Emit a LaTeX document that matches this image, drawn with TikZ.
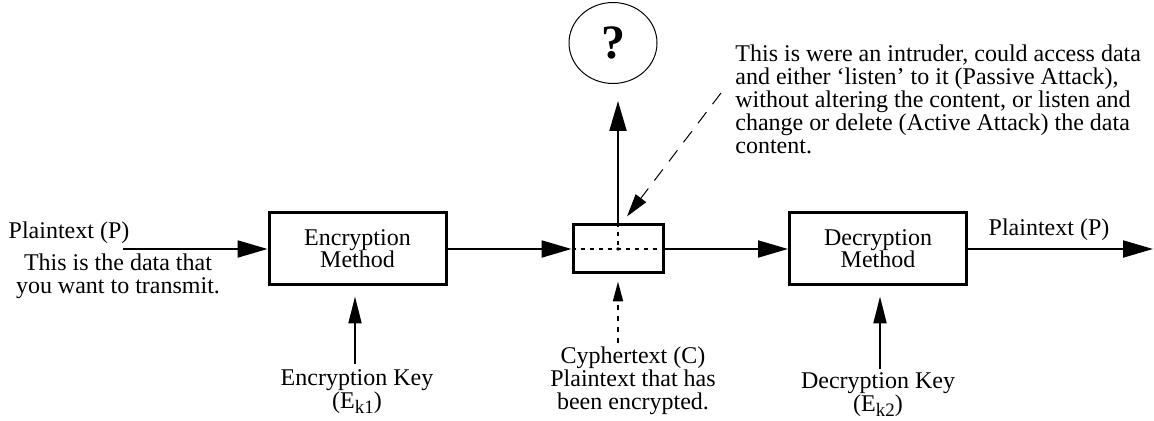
\documentclass[tikz,border=0pt]{standalone}
\usepackage{fontspec}
\setmainfont{Liberation Serif}
\usetikzlibrary{arrows.meta,shapes.geometric,calc}
% lowered key index, as in E with subscript k1
\newcommand{\keyidx}[1]{\raisebox{-0.4ex}{\fontsize{9.5}{9.5}\selectfont #1}}

\begin{document}
\begin{tikzpicture}[x=0.5pt,y=-0.5pt,
  every node/.style={font=\fontsize{12}{11.5}\selectfont, inner sep=0pt},
  method/.style={draw, line width=1.5pt, minimum width=88.5pt, minimum height=36pt,
                 align=center, font=\fontsize{12}{11}\selectfont},
  tapbox/.style={draw, line width=1.5pt, minimum width=45pt, minimum height=24pt},
  label/.style={align=center},
  flow/.style={line width=1pt, -{Triangle[length=15pt,width=8.5pt]}},
  keyflow/.style={line width=1pt, -{Triangle[length=13.5pt,width=6.5pt]}},
  listen/.style={line width=0.5pt, dash pattern=on 7pt off 5pt,
                 -{Triangle[length=11.5pt,width=6.5pt]}},
  cipherflow/.style={line width=1pt, dash pattern=on 2.5pt off 3pt,
                 -{Triangle[length=10pt,width=5pt]}},
  inner/.style={line width=1pt, dash pattern=on 2pt off 2.5pt}]

\useasboundingbox (0,0) rectangle (1154,421);

% processing boxes
\node[method] (enc) at (357.5,249) {Encryption\\Method};
\node[method] (dec) at (878,249) {Decryption\\Method};
\node[tapbox] (tap) at (618,249) {};
\node[draw, ellipse, line width=0.5pt, minimum width=44pt, minimum height=40.5pt,
      font=\bfseries\fontsize{24}{24}\selectfont] (who) at (613,43) {?};

% texts
\node (pin) at (69,233) {Plaintext (P)};
\node[label] (pinnote) at (118,276) {This is the data that\\you want to transmit.};
\node (pout) at (1049,230) {Plaintext (P)};
\node[label] (ekey) at (357,392) {Encryption Key\\(E\keyidx{k1})};
\node[label] (dkey) at (878,395) {Decryption Key\\(E\keyidx{k2})};
\node[label] (cyph) at (633,381) {Cyphertext (C)\\Plaintext that has\\been encrypted.};
\node[align=left, anchor=west] (attack) at (735,99)
  {This is were an intruder, could access data\\
   and either ‘listen’ to it (Passive Attack),\\
   without altering the content, or listen and\\
   change or delete (Active Attack) the data\\
   content.};

% free ends of the data path and of the intruder pointer
\coordinate (src) at (123,249);
\coordinate (dst) at (1153,249);
\coordinate (spy) at (721,93);

% data path
\draw[flow] (src) -- (enc.west);
\draw[flow] (enc.east) -- (tap.west);
\draw[flow] (tap.east) -- (dec.west);
\draw[flow] (dec.east) -- (dst);
\draw[flow, shorten >=8.5pt] (tap.north) -- (tap.north |- who.south);

% keys
\draw[keyflow, shorten <=3pt, shorten >=5pt] (ekey.north -| 355,0) -- (enc.south -| 355,0);
\draw[keyflow, shorten <=2pt, shorten >=5pt] (dkey.north -| 880,0) -- (dec.south -| 880,0);

% cyphertext pointer
\draw[cipherflow, shorten <=2pt, shorten >=3.5pt] (cyph.north -| tap.south) -- (tap.south);

% intruder pointer
\draw[listen] (spy) -- ([xshift=4.5pt,yshift=3.5pt]tap.north);

% tapping point inside the box
\draw[inner] (tap.west) -- (tap.east);
\draw[inner] (tap.north) -- (tap.center);
\fill (tap.center) circle (0.9pt);

\end{tikzpicture}
\end{document}
